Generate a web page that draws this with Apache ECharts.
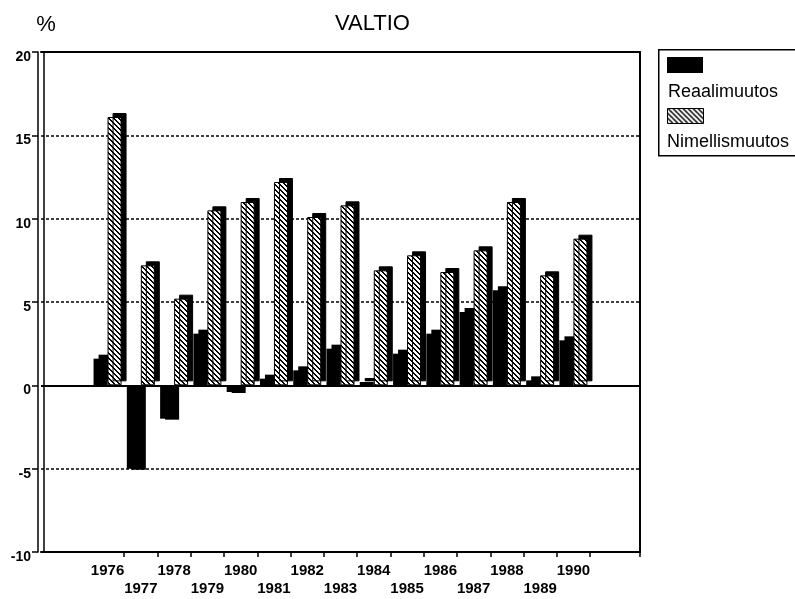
<!DOCTYPE html>
<html><head><meta charset="utf-8">
<script src="https://cdn.jsdelivr.net/npm/echarts@6/dist/echarts.min.js"></script>
<style>html,body{margin:0;padding:0;background:#fff}#c{width:795px;height:599px}</style>
</head><body><div id="c"></div>
<script>
// ---- data ----
const chartTitle = 'VALTIO';
const unitLabel = '%';
const seriesNames = ['Reaalimuutos', 'Nimellismuutos'];
const years = ['1976','1977','1978','1979','1980','1981','1982','1983','1984','1985','1986','1987','1988','1989','1990'];
const reaalimuutos   = [1.6, -5.0, -2.0, 3.1, -0.4, 0.4, 0.9, 2.2, 0.2, 1.9, 3.1, 4.4, 5.7, 0.3, 2.7];
const nimellismuutos = [16.1, 7.2, 5.2, 10.5, 11.0, 12.2, 10.1, 10.8, 6.9, 7.8, 6.8, 8.1, 11.0, 6.6, 8.8];
const yTicks = [-10, -5, 0, 5, 10, 15, 20];
const emptyBefore = ['1974', '1975'];
const emptyAfter = ['1991', '1992'];

// ---- build ----
const FONT = '"Liberation Sans", Arial, Helvetica, sans-serif';
const axisCats = emptyBefore.concat(years, emptyAfter);
const shownYears = new Set(years);
const padData = arr => emptyBefore.map(() => null).concat(arr, emptyAfter.map(() => null));
const halfSteps = [];
for (let i = 0; i < axisCats.length * 2 - 1; i++) halfSteps.push(String(i));
const firstYearIdx = emptyBefore.length;
const lastYearIdx = emptyBefore.length + years.length - 1;
// ticks just to the right of each shown year, plus the right end
const tickShown = i => (i % 2 === 1 && (i - 1) / 2 >= firstYearIdx && (i - 1) / 2 <= lastYearIdx) || i === halfSteps.length - 1;

function hatchCanvas() {
  const s = 5;
  const c = document.createElement('canvas');
  c.width = s; c.height = s;
  const g = c.getContext('2d');
  g.fillStyle = '#fff'; g.fillRect(0, 0, s, s);
  g.fillStyle = '#000';
  for (let y = 0; y < s; y++) {
    g.fillRect(y % s, y, 1, 1);
    g.fillRect((y + 1) % s, y, 1, 1);
  }
  return c;
}
const hatch = { image: hatchCanvas(), repeat: 'repeat' };

const chart = echarts.init(document.getElementById('c'), null, { renderer: 'canvas' });
const yMin = yTicks[0], yMax = yTicks[yTicks.length - 1], yStep = yTicks[1] - yTicks[0];

const option = {
  animation: false,
  backgroundColor: '#fff',
  title: {
    text: chartTitle, left: 330, top: 8,
    textStyle: { fontSize: 22, fontWeight: 'normal', fontFamily: FONT, color: '#000' }
  },
  grid: { left: 41, right: 155, top: 52, bottom: 47, containLabel: false },
  xAxis: [
    {
      type: 'category', data: axisCats, boundaryGap: false, position: 'bottom',
      axisLine: { show: true, onZero: false, lineStyle: { color: '#000', width: 2 } },
      axisTick: { show: false },
      axisLabel: {
        interval: 0, margin: 10, color: '#000', fontSize: 15, fontWeight: 'bold',
        fontFamily: FONT, lineHeight: 18,
        formatter: v => shownYears.has(v) ? (Number(v) % 2 ? '\n' + v : v) : ''
      },
      splitLine: { show: false }
    },
    {
      type: 'category', data: halfSteps, boundaryGap: false, position: 'bottom',
      axisLine: { show: false, onZero: false },
      axisTick: { show: true, length: 5, interval: (i) => tickShown(i), lineStyle: { color: '#000', width: 1.5 } },
      axisLabel: { show: false },
      splitLine: { show: false }
    },
    {
      type: 'category', data: axisCats, boundaryGap: false, position: 'top',
      axisLine: { show: true, onZero: false, lineStyle: { color: '#000', width: 2 } },
      axisTick: { show: false }, axisLabel: { show: false }, splitLine: { show: false }
    }
  ],
  yAxis: [
    {
      type: 'value', min: yMin, max: yMax, interval: yStep, position: 'left', offset: 3,
      name: unitLabel, nameLocation: 'end', nameGap: 16,
      nameTextStyle: { fontSize: 22, color: '#000', fontFamily: FONT, padding: [0, 0, 0, 16] },
      axisLine: { show: true, lineStyle: { color: '#000', width: 1.5 } },
      axisTick: { show: true, length: 6, lineStyle: { color: '#000', width: 1.5 } },
      axisLabel: { color: '#000', fontSize: 14, fontWeight: 'bold', fontFamily: FONT, margin: 7, verticalAlign: 'top', lineHeight: 10 },
      splitLine: { show: true, lineStyle: { color: '#000', type: [3, 2], width: 1.5 } }
    },
    {
      type: 'value', min: yMin, max: yMax, interval: yStep, position: 'left', offset: -3,
      axisLine: { show: true, lineStyle: { color: '#000', width: 1.5 } },
      axisTick: { show: false }, axisLabel: { show: false }, splitLine: { show: false }
    },
    {
      type: 'value', min: yMin, max: yMax, interval: yStep, position: 'right',
      axisLine: { show: true, lineStyle: { color: '#000', width: 2 } },
      axisTick: { show: false }, axisLabel: { show: false }, splitLine: { show: false }
    }
  ],
  series: [
    {
      name: seriesNames[0], type: 'bar', xAxisIndex: 0, yAxisIndex: 0,
      barWidth: 14, barGap: '0%',
      data: padData(reaalimuutos).map(v => v == null ? null : { value: v, itemStyle: { shadowOffsetY: v < 0 ? 1 : -4 } }),
      itemStyle: { color: '#000', shadowColor: '#000', shadowOffsetX: 5, shadowOffsetY: -4, shadowBlur: 0 }
    },
    {
      name: seriesNames[1], type: 'bar', xAxisIndex: 0, yAxisIndex: 0,
      barWidth: 14, barGap: '0%',
      data: padData(nimellismuutos),
      itemStyle: { color: hatch, borderColor: '#000', borderWidth: 1, shadowColor: '#000', shadowOffsetX: 5, shadowOffsetY: -4, shadowBlur: 0 },
      markLine: {
        silent: true, symbol: 'none', label: { show: false },
        lineStyle: { color: '#000', type: 'solid', width: 2 },
        data: [{ yAxis: 0 }]
      }
    }
  ],
  graphic: [
    { type: 'rect', left: 658, top: 49, shape: { width: 150, height: 106 }, style: { fill: '#fff', stroke: '#000', lineWidth: 1.5 } },
    { type: 'rect', left: 667, top: 57, shape: { width: 36, height: 16 }, style: { fill: '#000' } },
    { type: 'text', left: 668, top: 83, style: { text: seriesNames[0], font: '18px ' + FONT, fill: '#000' } },
    { type: 'rect', left: 667, top: 108, shape: { width: 36, height: 15 }, style: { fill: hatch, stroke: '#000', lineWidth: 1 } },
    { type: 'text', left: 667, top: 133, style: { text: seriesNames[1], font: '18px ' + FONT, fill: '#000' } }
  ]
};
chart.setOption(option);
</script>
</body></html>
